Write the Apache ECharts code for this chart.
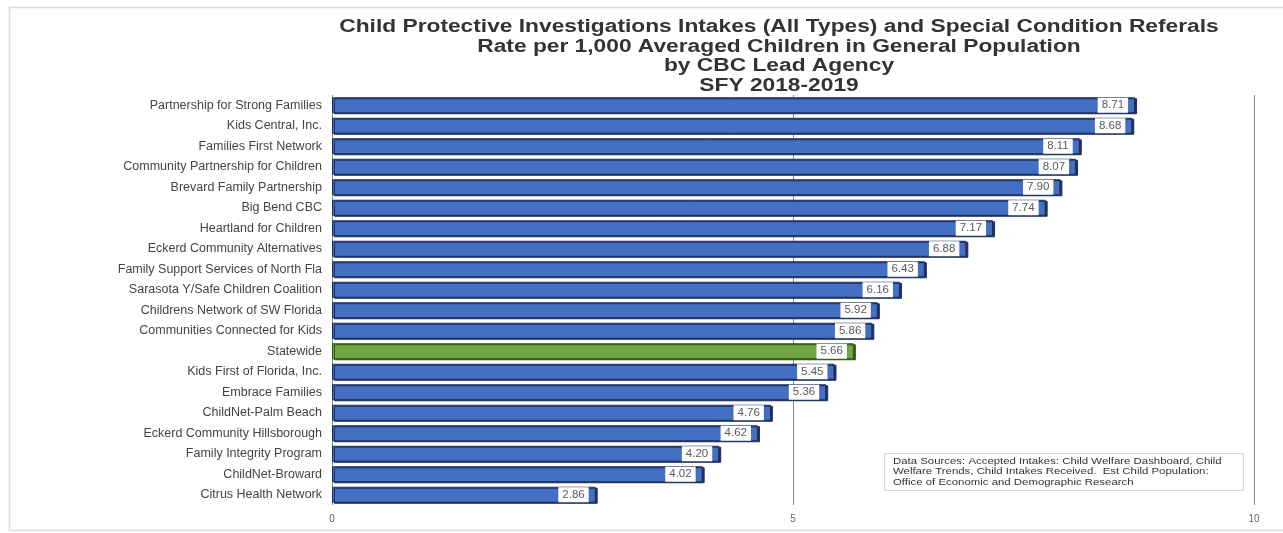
<!DOCTYPE html>
<html>
<head>
<meta charset="utf-8">
<script src="https://cdn.jsdelivr.net/npm/echarts@6/dist/echarts.min.js"></script>
<style>
  html, body { margin: 0; padding: 0; background: #fff; }
  #main { width: 1283px; height: 533px; }
</style>
</head>
<body>
<div id="main"></div>
<script>
// 机构名称（从上到下）
var agencies = [
  'Partnership for Strong Families',
  'Kids Central, Inc.',
  'Families First Network',
  'Community Partnership for Children',
  'Brevard Family Partnership',
  'Big Bend CBC',
  'Heartland for Children',
  'Eckerd Community Alternatives',
  'Family Support Services of North Fla',
  'Sarasota Y/Safe Children Coalition',
  'Childrens Network of SW Florida',
  'Communities Connected for Kids',
  'Statewide',
  'Kids First of Florida, Inc.',
  'Embrace Families',
  'ChildNet-Palm Beach',
  'Eckerd Community Hillsborough',
  'Family Integrity Program',
  'ChildNet-Broward',
  'Citrus Health Network'
];
// 每千名儿童的比率
var rates = [8.71, 8.68, 8.11, 8.07, 7.90, 7.74, 7.17, 6.88, 6.43, 6.16,
  5.92, 5.86, 5.66, 5.45, 5.36, 4.76, 4.62, 4.20, 4.02, 2.86];
var xTicks = [0, 5, 10];

var titleLines = [
  'Child Protective Investigations Intakes (All Types) and Special Condition Referals',
  'Rate per 1,000 Averaged Children in General Population',
  'by CBC Lead Agency',
  'SFY 2018-2019'
];
var sourceLines = [
  'Data Sources: Accepted Intakes: Child Welfare Dashboard, Child',
  'Welfare Trends, Child Intakes Received.  Est Child Population:',
  'Office of Economic and Demographic Research'
];

var FONT = 'Liberation Sans, Arial, sans-serif';
var chart = echarts.init(document.getElementById('main'));

var barData = rates.map(function (v, i) {
  var isState = agencies[i] === 'Statewide';
  return {
    value: v,
    itemStyle: isState ? {
      color: '#6fa843',
      borderColor: '#2f5a16',
      shadowColor: '#2f5a16'
    } : null
  };
});

var option = {
  backgroundColor: '#fff',
  animation: false,
  grid: {
    left: 332,
    right: 29,
    top: 95,
    bottom: 28
  },
  xAxis: {
    type: 'value',
    min: xTicks[0],
    max: xTicks[xTicks.length - 1],
    interval: 5,
    axisLine: { show: false },
    axisTick: { show: false },
    axisLabel: {
      margin: 9,
      color: '#666',
      fontSize: 10,
      fontFamily: FONT
    },
    splitLine: {
      show: true,
      lineStyle: { color: '#8a8a8a', width: 1 }
    }
  },
  yAxis: {
    type: 'category',
    data: agencies,
    inverse: true,
    axisLine: { show: false },
    axisTick: { show: false },
    axisLabel: {
      margin: 10,
      color: '#444',
      fontSize: 12.5,
      fontFamily: FONT
    }
  },
  series: [{
    type: 'bar',
    data: barData,
    barWidth: 16,
    itemStyle: {
      color: '#4470c4',
      borderColor: '#1e2f5c',
      borderWidth: 1,
      shadowColor: '#1e2f5c',
      shadowOffsetX: 2,
      shadowOffsetY: 1,
      shadowBlur: 0
    },
    label: {
      show: true,
      position: 'insideRight',
      offset: [-2, 0],
      formatter: function (p) { return p.value.toFixed(2); },
      backgroundColor: '#fff',
      padding: [2, 4, 1, 4],
      color: '#5a5a5a',
      fontSize: 11.5,
      fontFamily: FONT
    }
  }],
  graphic: [
    {
      type: 'rect',
      left: 7, top: 5,
      shape: { width: 1275, height: 523 },
      style: { fill: 'none', stroke: '#dcdcdc', lineWidth: 1.5 },
      silent: true
    },
    {
      // 标题（横向拉伸以匹配原图）
      type: 'text',
      x: 779, y: 17,
      scaleX: 1.3,
      style: {
        text: titleLines.join('\n'),
        textAlign: 'center',
        fill: '#333',
        fontSize: 17.5,
        fontWeight: 'bold',
        lineHeight: 19.8,
        fontFamily: FONT
      },
      silent: true
    },
    {
      type: 'rect',
      left: 884, top: 453,
      shape: { width: 359, height: 37 },
      style: { fill: '#fff', stroke: '#d8d8d8', lineWidth: 1 },
      z: 10
    },
    {
      type: 'text',
      x: 893, y: 456,
      scaleX: 1.2,
      style: {
        text: sourceLines.join('\n'),
        fill: '#333',
        fontSize: 9.5,
        lineHeight: 10.5,
        fontFamily: FONT
      },
      z: 11
    }
  ]
};

chart.setOption(option);
</script>
</body>
</html>
